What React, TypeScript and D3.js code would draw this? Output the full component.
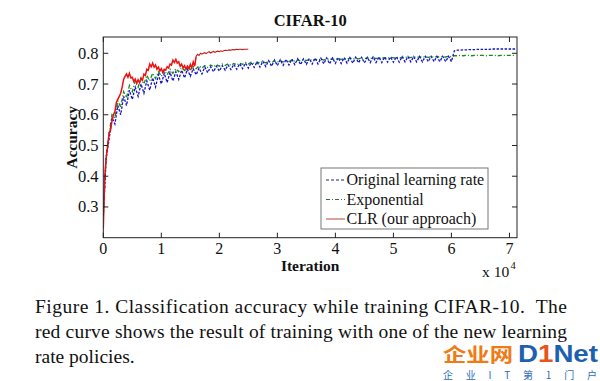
import React from "react";
import * as d3 from "d3";

// iterations (x) for the sampled series
const origIter = d3.range(0, 71001, 500);
const expIter = d3.range(0, 71001, 500);
const clrIter = d3.range(0, 25001, 250);

// Original learning rate (blue, dashed)
const origAcc = [
  0.27, 0.46, 0.52, 0.59, 0.57, 0.63, 0.60, 0.66, 0.63, 0.68,
  0.65, 0.69, 0.66, 0.70, 0.67, 0.71, 0.68, 0.72, 0.69, 0.73,
  0.70, 0.735, 0.705, 0.738, 0.71, 0.74, 0.715, 0.745, 0.72, 0.748,
  0.725, 0.75, 0.73, 0.752, 0.733, 0.755, 0.737, 0.756, 0.74, 0.758,
  0.742, 0.76, 0.745, 0.762, 0.747, 0.764, 0.748, 0.766, 0.75, 0.768,
  0.752, 0.77, 0.754, 0.772, 0.755, 0.774, 0.757, 0.776, 0.758, 0.778,
  0.76, 0.779, 0.761, 0.78, 0.762, 0.781, 0.763, 0.782, 0.763, 0.782,
  0.764, 0.783, 0.765, 0.784, 0.765, 0.784, 0.766, 0.785, 0.766, 0.785,
  0.767, 0.786, 0.767, 0.786, 0.768, 0.786, 0.768, 0.787, 0.769, 0.787,
  0.769, 0.787, 0.77, 0.788, 0.77, 0.788, 0.77, 0.788, 0.771, 0.788,
  0.771, 0.789, 0.771, 0.789, 0.772, 0.789, 0.772, 0.789, 0.772, 0.79,
  0.772, 0.79, 0.773, 0.79, 0.773, 0.79, 0.773, 0.79, 0.773, 0.79,
  0.773,
  0.808, 0.81, 0.81, 0.811, 0.811, 0.812, 0.812, 0.812, 0.813, 0.813,
  0.813, 0.813, 0.813, 0.814, 0.814, 0.814, 0.814, 0.814, 0.814, 0.814, 0.814, 0.814,
];

// Exponential (green, dash-dot)
const expAcc = [
  0.27, 0.47, 0.54, 0.60, 0.59, 0.645, 0.625, 0.675, 0.655, 0.695,
  0.675, 0.71, 0.69, 0.72, 0.70, 0.728, 0.71, 0.735, 0.718, 0.74,
  0.725, 0.745, 0.73, 0.748, 0.735, 0.75, 0.74, 0.753, 0.744, 0.755,
  0.747, 0.757, 0.75, 0.759, 0.752, 0.76, 0.754, 0.762, 0.756, 0.763,
  0.758, 0.765, 0.76, 0.766, 0.761, 0.767, 0.762, 0.768, 0.764, 0.77,
  0.765, 0.771, 0.767, 0.772, 0.768, 0.773, 0.769, 0.774, 0.77, 0.775,
  0.771, 0.776, 0.772, 0.777, 0.773, 0.778, 0.774, 0.778, 0.775, 0.779,
  0.776, 0.78, 0.777, 0.781, 0.778, 0.781, 0.778, 0.782, 0.779, 0.782,
  0.78, 0.783, 0.78, 0.783, 0.781, 0.784, 0.781, 0.784, 0.782, 0.785,
  0.782, 0.785, 0.783, 0.786, 0.783, 0.786, 0.784, 0.786, 0.784, 0.787,
  0.785, 0.787, 0.785, 0.787, 0.786, 0.788, 0.786, 0.788, 0.787, 0.788,
  0.787, 0.789, 0.787, 0.789, 0.788, 0.789, 0.788, 0.789, 0.788, 0.79,
  0.789,
  0.792, 0.792, 0.793, 0.792, 0.793, 0.793, 0.792, 0.793, 0.793, 0.793,
  0.793, 0.792, 0.793, 0.793, 0.793, 0.792, 0.793, 0.793, 0.793, 0.793, 0.793, 0.793,
];

// CLR (red, solid)
const clrAcc = [
  0.23, 0.40, 0.46, 0.50, 0.54, 0.55, 0.58, 0.60, 0.61, 0.64,
  0.65, 0.66, 0.67, 0.69, 0.715, 0.725, 0.733, 0.722, 0.735, 0.72,
  0.722, 0.708, 0.716, 0.702, 0.714, 0.704, 0.718, 0.712, 0.732, 0.728,
  0.748, 0.745, 0.765, 0.756, 0.768, 0.755, 0.762, 0.748, 0.755, 0.742,
  0.75, 0.738, 0.748, 0.745, 0.756, 0.752, 0.765, 0.762, 0.778, 0.77,
  0.78, 0.768, 0.772, 0.758, 0.765, 0.752, 0.76, 0.748, 0.758, 0.75,
  0.764, 0.752, 0.772, 0.758, 0.79, 0.797, 0.793, 0.80, 0.797, 0.80,
  0.802, 0.799, 0.803, 0.805, 0.801, 0.804, 0.806, 0.803, 0.806, 0.807,
  0.805, 0.808, 0.806, 0.808, 0.81, 0.809, 0.81, 0.811, 0.81, 0.812,
  0.811, 0.812, 0.813, 0.812, 0.813, 0.813, 0.812, 0.813, 0.813, 0.813,
  0.813,
];
// iteration where the CLR curve jumps (bright red before, darker red after)
const clrJumpIter = 16000;

const xTicks = [0, 1, 2, 3, 4, 5, 6, 7];
const yTicks = [0.3, 0.4, 0.5, 0.6, 0.7, 0.8];
const legendLabels = ["Original learning rate", "Exponential", "CLR (our approach)"];
const captionLines = [
  "Figure 1. Classification accuracy while training CIFAR-10.  The",
  "red curve shows the result of training with one of the new learning",
  "rate policies.",
];

const serif = "Liberation Serif, Times New Roman, serif";

export default function App() {
  const W = 600, H = 381;
  const left = 103.3, right = 517, top = 37, bottom = 237.7;
  const x = d3.scaleLinear().domain([0, 71300]).range([left, right]);
  const y = d3.scaleLinear().domain([0.2, 0.853]).range([bottom, top]);

  const line = d3
    .line<[number, number]>()
    .x((d) => x(d[0]))
    .y((d) => y(d[1]));

  const orig = origIter.map((it, i) => [it, origAcc[i]] as [number, number]);
  const exp = expIter.map((it, i) => [it, expAcc[i]] as [number, number]);
  const clr = clrIter.map((it, i) => [it, clrAcc[i]] as [number, number]);
  const clrA = clr.filter((d) => d[0] <= clrJumpIter);
  const clrB = clr.filter((d) => d[0] >= clrJumpIter);

  const tickLen = 5;
  const legendX = 321, legendY = 168, legendW = 167, legendH = 61;
  const legendStyles = [
    { stroke: "#23236a", dash: "3,2" },
    { stroke: "#3a6a3a", dash: "4,2,1,2" },
    { stroke: "#b04848", dash: "" },
  ];

  return (
    <svg
      width={W}
      height={H}
      viewBox={`0 0 ${W} ${H}`}
      style={{ position: "absolute", left: 0, top: 0, display: "block", background: "#fff" }}
    >
      <rect x={0} y={0} width={W} height={H} fill="#fff" />
      {/* Title */}
      <text x={(left + right) / 2} y={26} textAnchor="middle" fontFamily={serif} fontWeight="bold" fontSize={16.5} fill="#111">
        CIFAR-10
      </text>

      <defs>
        <clipPath id="plotClip">
          <rect x={left} y={top} width={right - left} height={bottom - top} />
        </clipPath>
      </defs>

      {/* Series */}
      <g clipPath="url(#plotClip)" fill="none">
        <path d={line(exp) || ""} stroke="#158a15" strokeWidth={1.3} strokeDasharray="4,2,1,2" />
        <path d={line(orig) || ""} stroke="#1414c4" strokeWidth={1.3} strokeDasharray="2.5,1.5" />
        <path d={line(clrA) || ""} stroke="#ee1010" strokeWidth={1.5} />
        <path d={line(clrB) || ""} stroke="#c41a1a" strokeWidth={1.1} />
      </g>

      {/* Frame */}
      <rect x={left} y={top} width={right - left} height={bottom - top} fill="none" stroke="#222" strokeWidth={1} />

      {/* X ticks */}
      {xTicks.map((t) => (
        <g key={"x" + t}>
          <line x1={x(t * 1e4)} x2={x(t * 1e4)} y1={bottom} y2={bottom - tickLen} stroke="#222" />
          <line x1={x(t * 1e4)} x2={x(t * 1e4)} y1={top} y2={top + tickLen} stroke="#222" />
          <text x={x(t * 1e4)} y={254} textAnchor="middle" fontFamily={serif} fontSize={16} fill="#111">
            {t}
          </text>
        </g>
      ))}
      {/* Y ticks */}
      {yTicks.map((t) => (
        <g key={"y" + t}>
          <line x1={left} x2={left + tickLen} y1={y(t)} y2={y(t)} stroke="#222" />
          <line x1={right} x2={right - tickLen} y1={y(t)} y2={y(t)} stroke="#222" />
          <text x={98.5} y={y(t) + 5.5} textAnchor="end" fontFamily={serif} fontSize={16.5} fill="#111">
            {t.toFixed(1)}
          </text>
        </g>
      ))}

      {/* Axis labels */}
      <text x={(left + right) / 2} y={270.5} textAnchor="middle" fontFamily={serif} fontWeight="bold" fontSize={15.5} fill="#111">
        Iteration
      </text>
      <text
        transform={`translate(77, ${(top + bottom) / 2}) rotate(-90)`}
        textAnchor="middle"
        fontFamily={serif}
        fontWeight="bold"
        fontSize={15.5}
        fill="#111"
      >
        Accuracy
      </text>
      <text x={482} y={277} fontFamily={serif} fontSize={15.5} fill="#111">
        x 10
      </text>
      <text x={510.5} y={268.5} fontFamily={serif} fontSize={10.5} fill="#111">
        4
      </text>

      {/* Legend */}
      <rect x={legendX} y={legendY} width={legendW} height={legendH} fill="#fff" stroke="#777" strokeWidth={1} />
      {legendLabels.map((lab, i) => {
        const yy = 180 + i * 19.5;
        return (
          <g key={lab}>
            <line x1={326} x2={345} y1={yy} y2={yy} stroke={legendStyles[i].stroke} strokeWidth={1} strokeDasharray={legendStyles[i].dash} />
            <text x={346.5} y={yy + 5} fontFamily={serif} fontSize={16} fill="#111">
              {lab}
            </text>
          </g>
        );
      })}

      {/* Caption */}
      {captionLines.map((ln, i) => (
        <text
          key={i}
          x={35}
          y={312.5 + i * 25}
          fontFamily={serif}
          fontSize={19.5}
          fill="#111"
          textLength={i < 2 ? 532 : undefined}
          lengthAdjust="spacing"
          xmlSpace="preserve"
        >
          {ln}
        </text>
      ))}

      {/* Watermark */}
      <text x={443} y={362} fontFamily="Noto Sans CJK SC, sans-serif" fontWeight="bold" fontSize={19.5} fill="#f07a14" textLength={70} lengthAdjust="spacingAndGlyphs">
        企业网
      </text>
      <text x={518} y={362} fontFamily="Liberation Sans, Arial, sans-serif" fontWeight="bold" fontSize={23.5} textLength={80} lengthAdjust="spacingAndGlyphs">
        <tspan fill="#1d5fb0">D</tspan>
        <tspan fill="#e8551a">1</tspan>
        <tspan fill="#1d5fb0">Net</tspan>
      </text>
      <text x={443} y={379} fontFamily="Noto Sans CJK SC, sans-serif" fontSize={10} fill="#2a6cb8" textLength={154} lengthAdjust="spacing">
        企 业 I T 第 1 门 户
      </text>
    </svg>
  );
}
